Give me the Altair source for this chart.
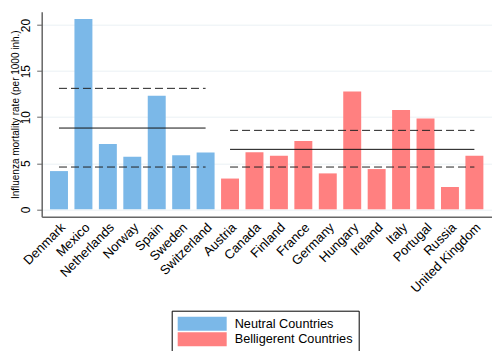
import altair as alt
import pandas as pd

countries = ["Denmark", "Mexico", "Netherlands", "Norway", "Spain", "Sweden", "Switzerland",
             "Austria", "Canada", "Finland", "France", "Germany", "Hungary", "Ireland",
             "Italy", "Portugal", "Russia", "United Kingdom"]
rates = [4.15, 20.65, 7.08, 5.7, 12.32, 5.88, 6.17,
         3.34, 6.19, 5.82, 7.41, 3.9, 12.8, 4.37, 10.78, 9.87, 2.42, 5.82]
groups = ["Neutral Countries"] * 7 + ["Belligerent Countries"] * 11

group_names = ["Neutral Countries", "Belligerent Countries"]
group_colors = ["#7BB8E8", "#FF8080"]
line_start = ["Denmark", "Austria"]
line_end = ["Switzerland", "United Kingdom"]
line_mean = [8.82, 6.51]
line_low = [4.59, 4.59]
line_high = [13.13, 8.57]

bars_df = pd.DataFrame({"country": countries, "rate": rates, "group": groups})

rows = []
for g, s, e, m, lo, hi in zip(group_names, line_start, line_end, line_mean, line_low, line_high):
    rows.append({"group": g, "start": s, "end": e, "value": m, "kind": "mean"})
    rows.append({"group": g, "start": s, "end": e, "value": lo, "kind": "band"})
    rows.append({"group": g, "start": s, "end": e, "value": hi, "kind": "band"})
lines_df = pd.DataFrame(rows)

xscale = alt.Scale(domain=countries, paddingInner=0.265, paddingOuter=0.34)
yscale = alt.Scale(domain=[-0.8, 21.45], nice=False, zero=False)

bars = alt.Chart(bars_df).mark_bar().encode(
    x=alt.X("country:N", scale=xscale, sort=countries, title=None,
            axis=alt.Axis(labelAngle=-45, labelFontSize=13, labelFont="Liberation Sans",
                          labelColor="#000", ticks=False, domainColor="#666", domainWidth=1.5,
                          labelPadding=4)),
    y=alt.Y("rate:Q", scale=yscale,
            title="Influenza mortality rate (per 1000 inh.)",
            axis=alt.Axis(values=[0, 5, 10, 15, 20], labelAngle=-90, labelAlign="center",
                          labelBaseline="bottom", labelFontSize=12, labelFont="Liberation Sans",
                          labelColor="#000", tickColor="#666", tickSize=5, labelPadding=4,
                          domainColor="#666", domainWidth=1.5, gridColor="#EAF1F4",
                          titleFontSize=10, titleFont="Liberation Sans", titleFontWeight="normal",
                          titleColor="#000", titleX=-26.7, titleY=102.5, titleAngle=-90,
                          titleAlign="center", titleBaseline="middle")),
    color=alt.Color("group:N", scale=alt.Scale(domain=group_names, range=group_colors),
                    legend=alt.Legend(title=None, orient="none", legendX=130, legendY=299,
                                      direction="vertical", strokeColor="#000", fillColor="#fff",
                                      padding=6, symbolType="M-3.5,-1H3.5V1H-3.5Z",
                                      symbolSize=196, symbolStrokeWidth=0, symbolOffset=17.5,
                                      labelFontSize=12.7, labelFont="Liberation Sans",
                                      labelColor="#000", symbolOpacity=1, rowPadding=1.6,
                                      labelOffset=25.5)),
)

solid = alt.Chart(lines_df).transform_filter(alt.datum.kind == "mean").mark_rule(
    color="#111", strokeWidth=1).encode(
    x=alt.X("start:N", scale=xscale, bandPosition=0.5),
    x2=alt.X2("end:N", bandPosition=0.5),
    y=alt.Y("value:Q", scale=yscale),
)

dashed = alt.Chart(lines_df).transform_filter(alt.datum.kind == "band").mark_rule(
    color="#222", strokeWidth=1, strokeDash=[8, 4]).encode(
    x=alt.X("start:N", scale=xscale, bandPosition=0.5),
    x2=alt.X2("end:N", bandPosition=0.5),
    y=alt.Y("value:Q", scale=yscale),
)

chart = alt.layer(bars, solid, dashed).properties(
    width=450, height=205,
    autosize=alt.AutoSizeParams(type="none"),
    padding={"left": 33.7, "top": 3.7, "right": 0, "bottom": 134},
).configure_view(stroke=None).configure_axis(gridWidth=1)

chart.save("out.html", embed_options={"renderer": "svg", "actions": False})
